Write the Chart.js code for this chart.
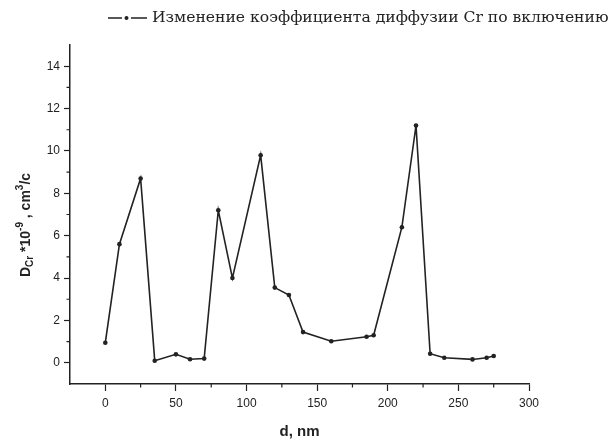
<!DOCTYPE html>
<html>
<head>
<meta charset="utf-8">
<script src="https://cdn.jsdelivr.net/npm/chart.js@4.4.1/dist/chart.umd.min.js"></script>
<style>
  html, body { margin: 0; padding: 0; background: #fff; }
  #wrap { width: 613px; height: 442px; }
</style>
</head>
<body>
<div id="wrap"><canvas id="myChart" width="613" height="442"></canvas></div>
<script>
// thickness, nm
const depth = [0, 10, 25, 35, 50, 60, 70, 80, 90, 110, 120, 130, 140, 160, 185, 190, 210, 220, 230, 240, 260, 270, 275];
// D_Cr * 10^-9, cm^3/c
const diffCoef = [0.95, 5.6, 8.7, 0.1, 0.4, 0.17, 0.2, 7.2, 4.0, 9.8, 3.55, 3.2, 1.45, 1.02, 1.23, 1.3, 6.4, 11.2, 0.43, 0.24, 0.16, 0.24, 0.32];
const seriesLabel = 'Изменение коэффициента диффузии Cr по включению';
const xTitle = 'd, nm';

const points = depth.map((d, i) => ({x: d, y: diffCoef[i]}));

const ink = '#222';
const tickFont = {family: 'Liberation Sans, Arial', size: 12};

const isMinor = c => c.tick && c.tick.label === '';

// legend drawn like origin: —•— label
const legendPlugin = {
  id: 'originLegend',
  afterDraw(chart) {
    const ctx = chart.ctx;
    const y = 18;
    ctx.save();
    ctx.strokeStyle = ink;
    ctx.lineWidth = 1.6;
    ctx.beginPath();
    ctx.moveTo(108, y); ctx.lineTo(122, y);
    ctx.moveTo(131, y); ctx.lineTo(147, y);
    ctx.stroke();
    ctx.fillStyle = ink;
    ctx.beginPath();
    ctx.arc(126.5, y, 2, 0, Math.PI * 2);
    ctx.fill();
    const text = chart.data.datasets[0].label;
    ctx.font = '14px "DejaVu Serif"';
    const w = ctx.measureText(text).width;
    const size = Math.min(16, 14 * 456 / w);
    ctx.font = size.toFixed(1) + 'px "DejaVu Serif"';
    ctx.textBaseline = 'middle';
    ctx.fillText(text, 152, y);
    ctx.restore();
  }
};

// short minor ticks (origin style)
const minorTickPlugin = {
  id: 'minorTicks',
  afterDraw(chart) {
    const ctx = chart.ctx;
    const xs = chart.scales.x, ys = chart.scales.y;
    ctx.save();
    ctx.strokeStyle = ink;
    ctx.lineWidth = 1.2;
    ctx.beginPath();
    xs.ticks.forEach(t => {
      if (t.label === '' && t.value > xs.min) {
        const px = xs.getPixelForValue(t.value);
        ctx.moveTo(px, xs.top); ctx.lineTo(px, xs.top + 3.5);
      }
    });
    ys.ticks.forEach(t => {
      if (t.label === '' && t.value > ys.min && t.value < ys.max) {
        const py = ys.getPixelForValue(t.value);
        ctx.moveTo(ys.right, py); ctx.lineTo(ys.right - 3.5, py);
      }
    });
    ctx.stroke();
    ctx.restore();
  }
};

// y title with sub/superscripts
const yTitlePlugin = {
  id: 'yTitle',
  afterDraw(chart) {
    const ctx = chart.ctx;
    const parts = [
      ['D', 14, 0], ['Cr', 10, 4], [' *10', 14, 0], ['-9', 10, -6],
      [' , cm', 14, 0], ['3', 10, -6], ['/c', 14, 0]
    ];
    ctx.save();
    let total = 0;
    parts.forEach(p => {
      ctx.font = 'bold ' + p[1] + 'px "Liberation Sans"';
      total += ctx.measureText(p[0]).width;
    });
    ctx.translate(26, 225);
    ctx.rotate(-Math.PI / 2);
    ctx.fillStyle = ink;
    ctx.textBaseline = 'middle';
    let x = -total / 2;
    parts.forEach(p => {
      ctx.font = 'bold ' + p[1] + 'px "Liberation Sans"';
      ctx.fillText(p[0], x, p[2]);
      x += ctx.measureText(p[0]).width;
    });
    ctx.restore();
  }
};

const config = {
  type: 'line',
  data: {
    datasets: [{
      label: seriesLabel,
      data: points,
      borderColor: ink,
      backgroundColor: ink,
      borderWidth: 1.6,
      pointRadius: 2.3,
      pointBackgroundColor: ink,
      pointBorderWidth: 0,
      tension: 0
    }]
  },
  options: {
    responsive: false,
    animation: false,
    layout: {padding: {left: 0, top: 45, right: 84, bottom: 0}},
    plugins: {
      legend: {display: false},
      tooltip: {enabled: false}
    },
    scales: {
      x: {
        type: 'linear',
        min: -25,
        max: 300,
        afterFit: s => { s.height = 58; },
        ticks: {
          stepSize: 25,
          autoSkip: false,
          maxRotation: 0,
          padding: 5,
          color: ink,
          font: tickFont,
          callback: v => (v >= 0 && v % 50 === 0) ? v : ''
        },
        grid: {
          drawOnChartArea: false, tickLength: 7, tickWidth: 1.2,
          tickColor: c => isMinor(c) ? 'rgba(0,0,0,0)' : ink
        },
        border: {color: ink, width: 1.5},
        title: {
          display: true,
          text: xTitle,
          color: ink,
          font: {family: 'Liberation Sans', size: 15, weight: 'bold'},
          padding: {top: 0, bottom: 1}
        }
      },
      y: {
        type: 'linear',
        min: -1,
        max: 15,
        afterFit: s => { s.width = 70; },
        ticks: {
          stepSize: 1,
          autoSkip: false,
          padding: 4,
          color: ink,
          font: tickFont,
          callback: v => (v >= 0 && v <= 14 && v % 2 === 0) ? v : ''
        },
        grid: {
          drawOnChartArea: false, tickLength: 6, tickWidth: 1.2,
          tickColor: c => isMinor(c) ? 'rgba(0,0,0,0)' : ink
        },
        border: {color: ink, width: 1.5}
      }
    }
  },
  plugins: [legendPlugin, minorTickPlugin, yTitlePlugin]
};

const myChart = new Chart(document.getElementById('myChart'), config);
</script>
</body>
</html>
